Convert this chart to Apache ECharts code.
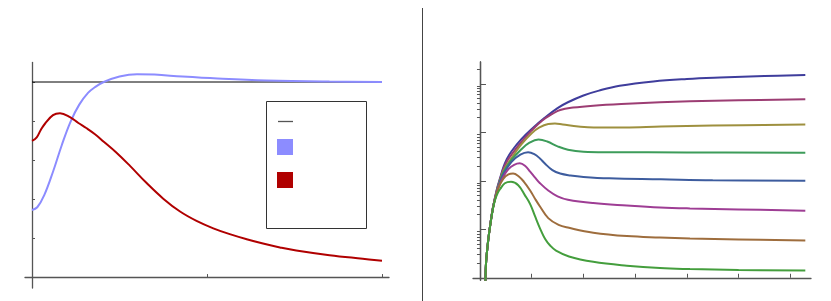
<!DOCTYPE html>
<html>
<head>
<meta charset="utf-8">
<script src="https://cdn.jsdelivr.net/npm/echarts@6/dist/echarts.min.js"></script>
<style>html,body{margin:0;padding:0;background:#fff}#c{width:831px;height:301px}</style>
</head>
<body>
<div id="c"></div>
<script>
// ---- Left panel data (linear scale) ----
const leftRefLine = [[0, 5], [2, 5]];
const leftBlue = [[0,1.72],[0.03,1.79],[0.07,2.10],[0.12,2.70],[0.17,3.38],[0.22,3.98],[0.27,4.42],[0.32,4.72],[0.36,4.87],[0.41,5.0],[0.5,5.14],[0.6,5.20],[0.7,5.19],[0.86,5.14],[1.06,5.09],[1.34,5.04],[1.7,5.01],[2.0,5.0]];
const leftRed = [[0,3.49],[0.027,3.58],[0.05,3.77],[0.074,3.93],[0.12,4.15],[0.16,4.20],[0.217,4.10],[0.265,3.95],[0.31,3.82],[0.36,3.66],[0.41,3.47],[0.48,3.20],[0.56,2.85],[0.655,2.41],[0.75,2.01],[0.846,1.68],[0.94,1.44],[1.036,1.25],[1.13,1.10],[1.227,0.97],[1.32,0.86],[1.417,0.76],[1.51,0.68],[1.70,0.56],[1.89,0.47],[2.0,0.42]];
const leftXTicks = [0, 1, 2];
const leftYTicks = [1, 2, 3, 4, 5];

// ---- Right panel data (values given as decades, log10) ----
const curve1 = [[0.105,-0.06],[0.12,0.35],[0.16,0.78],[0.19,1.03],[0.25,1.44],[0.32,1.8],[0.39,2.06],[0.45,2.27],[0.52,2.45],[0.61,2.61],[0.8,2.86],[1.0,3.07],[1.25,3.30],[1.5,3.50],[1.7,3.62],[2.0,3.76],[2.3,3.86],[2.7,3.96],[3.35,4.05],[4.0,4.10],[4.64,4.13],[5.5,4.16],[6.29,4.18]];
const curve2 = [[0.105,-0.06],[0.12,0.35],[0.16,0.78],[0.19,1.03],[0.25,1.44],[0.32,1.78],[0.39,2.04],[0.45,2.24],[0.52,2.40],[0.61,2.54],[0.8,2.8],[1.0,3.04],[1.2,3.24],[1.4,3.38],[1.55,3.46],[1.8,3.51],[2.19,3.55],[2.84,3.59],[3.48,3.62],[4.06,3.64],[5.0,3.66],[6.29,3.68]];
const curve3 = [[0.105,-0.06],[0.12,0.35],[0.16,0.78],[0.19,1.03],[0.25,1.44],[0.32,1.76],[0.39,2.01],[0.45,2.2],[0.61,2.47],[0.8,2.75],[1.0,2.98],[1.15,3.10],[1.32,3.17],[1.45,3.18],[1.6,3.16],[1.9,3.12],[2.2,3.10],[2.8,3.10],[3.5,3.12],[4.5,3.14],[6.29,3.16]];
const curve4 = [[0.105,-0.06],[0.12,0.35],[0.16,0.78],[0.19,1.03],[0.25,1.44],[0.31,1.72],[0.38,1.97],[0.45,2.17],[0.61,2.43],[0.8,2.65],[0.95,2.78],[1.13,2.85],[1.3,2.81],[1.5,2.71],[1.7,2.64],[2.0,2.60],[2.5,2.59],[4.0,2.585],[6.29,2.58]];
const curve5 = [[0.105,-0.06],[0.12,0.35],[0.16,0.78],[0.19,1.03],[0.25,1.44],[0.31,1.7],[0.38,1.95],[0.45,2.13],[0.61,2.39],[0.78,2.54],[0.93,2.59],[1.05,2.55],[1.16,2.46],[1.25,2.36],[1.4,2.22],[1.55,2.15],[1.75,2.11],[2.0,2.08],[2.5,2.05],[3.5,2.03],[4.5,2.01],[6.29,2.0]];
const curve6 = [[0.105,-0.06],[0.12,0.35],[0.16,0.78],[0.19,1.03],[0.25,1.44],[0.3,1.67],[0.37,1.9],[0.45,2.08],[0.55,2.24],[0.66,2.33],[0.77,2.36],[0.87,2.31],[0.97,2.19],[1.07,2.06],[1.16,1.95],[1.32,1.80],[1.5,1.68],[1.7,1.61],[2.19,1.54],[2.84,1.49],[3.48,1.45],[4.06,1.43],[5.0,1.41],[6.29,1.38]];
const curve7 = [[0.105,-0.06],[0.12,0.35],[0.16,0.78],[0.19,1.02],[0.25,1.43],[0.3,1.66],[0.36,1.86],[0.45,2.04],[0.55,2.13],[0.64,2.15],[0.74,2.10],[0.85,1.98],[0.97,1.80],[1.07,1.62],[1.16,1.47],[1.32,1.23],[1.52,1.09],[1.72,1.03],[2.19,0.93],[2.84,0.86],[3.48,0.83],[4.06,0.81],[5.0,0.79],[6.29,0.77]];
const curve8 = [[0.105,-0.06],[0.12,0.35],[0.16,0.78],[0.19,1.02],[0.25,1.42],[0.29,1.6],[0.34,1.74],[0.39,1.83],[0.48,1.95],[0.6,1.98],[0.74,1.91],[0.87,1.70],[0.97,1.52],[1.06,1.28],[1.16,1.02],[1.26,0.80],[1.36,0.66],[1.47,0.56],[1.72,0.44],[2.19,0.33],[2.84,0.25],[3.48,0.20],[4.06,0.18],[5.0,0.16],[6.29,0.15]];
const rightCurves = [curve1, curve2, curve3, curve4, curve5, curve6, curve7, curve8];
const rightColors = ['#3f3d9c','#9c3d73','#9e903f','#3d9c5a','#3d5c9e','#9e3d94','#9e6d3d','#449e3d'];
const rightXTicks = [1, 2, 3, 4, 5, 6];
const rightMajorDecades = [1, 2, 3, 4];
const rightMinorMultipliers = [2, 3, 4, 5, 6, 7, 8, 9];

const minorTicks = [];
for (let d = 0; d <= 4; d++) {
  rightMinorMultipliers.forEach(m => { const v = d + Math.log10(m); if (v < 4.45) minorTicks.push(v); });
}

const axisColor = '#555';
const axLine = { show: true, onZero: true, lineStyle: { color: axisColor, width: 1.3 } };

const chart = echarts.init(document.getElementById('c'), null, { renderer: 'canvas' });

const smoothOpts = { smooth: 0.4 };
const series = [
  { type: 'line', xAxisIndex: 0, yAxisIndex: 0, data: leftRefLine, showSymbol: false, lineStyle: { color: '#000', width: 1 }, silent: true },
  Object.assign({ type: 'line', xAxisIndex: 0, yAxisIndex: 0, data: leftBlue, showSymbol: false, lineStyle: { color: '#8c8cff', width: 2 } }, smoothOpts),
  Object.assign({ type: 'line', xAxisIndex: 0, yAxisIndex: 0, data: leftRed, showSymbol: false, lineStyle: { color: '#b00000', width: 2 } }, smoothOpts)
];
rightCurves.forEach((c, i) => {
  series.push(Object.assign({ type: 'line', xAxisIndex: 1, yAxisIndex: 1, data: c, showSymbol: false, clip: true, lineStyle: { color: rightColors[i], width: 2 } }, smoothOpts));
});

chart.setOption({
  animation: false,
  grid: [
    { left: 25, right: 442, top: 62.5, bottom: 13 },
    { left: 473, right: 20, top: 62, bottom: 20.8 }
  ],
  xAxis: [
    { type: 'value', gridIndex: 0, min: -0.04, max: 2.04, axisLine: axLine,
      axisTick: { show: true, inside: true, length: 3, customValues: leftXTicks, lineStyle: { color: axisColor } },
      axisLabel: { show: false }, splitLine: { show: false } },
    { type: 'value', gridIndex: 1, min: -0.135, max: 6.4, axisLine: axLine,
      axisTick: { show: true, inside: true, length: 4, customValues: rightXTicks, lineStyle: { color: axisColor } },
      axisLabel: { show: false }, splitLine: { show: false } }
  ],
  yAxis: [
    { type: 'value', gridIndex: 0, min: -0.28, max: 5.5, axisLine: axLine,
      axisTick: { show: true, inside: true, length: 3, customValues: leftYTicks, lineStyle: { color: axisColor } },
      axisLabel: { show: false }, splitLine: { show: false } },
    { type: 'value', gridIndex: 1, min: -0.05, max: 4.45, axisLine: Object.assign({}, axLine, { onZeroAxisIndex: 1 }),
      axisTick: { show: true, inside: true, length: 6, customValues: rightMajorDecades, lineStyle: { color: axisColor } },
      axisLabel: { show: false }, splitLine: { show: false } },
    { type: 'value', gridIndex: 1, min: -0.05, max: 4.45, axisLine: Object.assign({}, axLine, { onZeroAxisIndex: 1 }),
      axisTick: { show: true, inside: true, length: 3, customValues: minorTicks, lineStyle: { color: axisColor } },
      axisLabel: { show: false }, splitLine: { show: false } }
  ],
  series: series,
  graphic: [
    { type: 'line', shape: { x1: 422.5, y1: 8, x2: 422.5, y2: 301 }, style: { stroke: '#444', lineWidth: 1 } },
    { type: 'rect', shape: { x: 266.5, y: 101.5, width: 100, height: 127 }, style: { fill: '#fff', stroke: '#333', lineWidth: 1 } },
    { type: 'line', shape: { x1: 278, y1: 121.5, x2: 293, y2: 121.5 }, style: { stroke: '#555', lineWidth: 1.3 } },
    { type: 'rect', shape: { x: 277, y: 139, width: 16, height: 16 }, style: { fill: '#8c8cff' } },
    { type: 'rect', shape: { x: 277, y: 172, width: 16, height: 16 }, style: { fill: '#b00000' } }
  ]
});
</script>
</body>
</html>
